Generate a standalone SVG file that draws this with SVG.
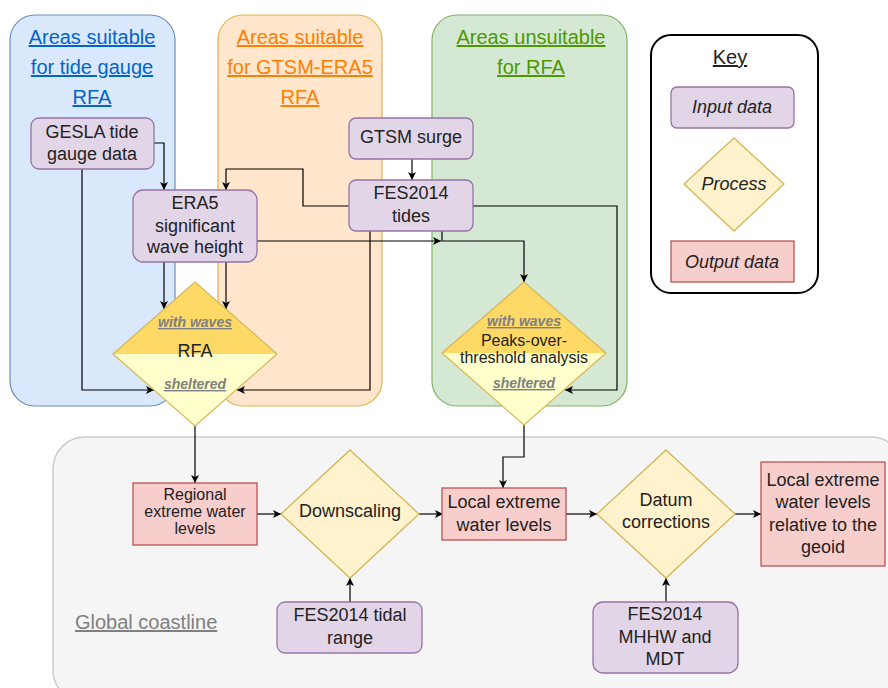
<svg xmlns="http://www.w3.org/2000/svg" width="888" height="688" viewBox="0 0 888 688">
<defs>
<marker id="arr" markerWidth="10" markerHeight="10" refX="9" refY="5" orient="auto" markerUnits="userSpaceOnUse">
<path d="M1,1 L9,5 L1,9 L3,5 z" fill="#000"/>
</marker>
<style>
text{font-family:"Liberation Sans",Arial,sans-serif;fill:#222;}
.t{font-size:18px;text-anchor:middle;}
.s{font-size:16px;text-anchor:middle;}
.h{font-size:20px;text-anchor:middle;text-decoration:underline;}
.k{font-size:18px;text-anchor:middle;font-style:italic;}
.w{font-size:14px;text-anchor:middle;font-style:italic;font-weight:bold;text-decoration:underline;fill:#808080;}
.in{fill:#e1d5e7;stroke:#9673a6;stroke-width:1.3;}
.out{fill:#f8cecc;stroke:#b85450;stroke-width:1.3;}
.proc{fill:#fff2cc;stroke:#d6b656;stroke-width:1.3;}
.ca{fill:none;stroke:#000;stroke-width:1.2;marker-end:url(#arr);}
</style>
</defs>
<rect width="888" height="688" fill="#fff"/>
<g id="lanes">
<rect x="10" y="15" width="165" height="391" rx="25" fill="#dae8fc" stroke="#6c8ebf" stroke-width="1.2"/>
<rect x="218" y="15" width="164" height="391" rx="25" fill="#ffe6cc" stroke="#d79b00" stroke-width="1.2" stroke-opacity="0.7"/>
<rect x="432" y="15" width="195" height="391" rx="25" fill="#d5e8d4" stroke="#82b366" stroke-width="1.2"/>
<rect x="53" y="437" width="850" height="265" rx="32" fill="#f5f5f5" stroke="#cccccc" stroke-width="1.5"/>
<text class="h" x="92" y="44" style="fill:#0066CC">Areas suitable</text>
<text class="h" x="92" y="74" style="fill:#0066CC">for tide gauge</text>
<text class="h" x="92" y="104" style="fill:#0066CC">RFA</text>
<text class="h" x="300" y="44" style="fill:#FF8000">Areas suitable</text>
<text class="h" x="300" y="74" style="fill:#FF8000">for GTSM-ERA5</text>
<text class="h" x="300" y="104" style="fill:#FF8000">RFA</text>
<text class="h" x="531" y="44" style="fill:#4D9900">Areas unsuitable</text>
<text class="h" x="531" y="74" style="fill:#4D9900">for RFA</text>
<text x="75" y="629" style="font-size:20px;fill:#808080;text-decoration:underline">Global coastline</text>
</g>
<g id="key">
<rect x="651" y="35" width="167" height="258" rx="20" fill="#fff" stroke="#000" stroke-width="2"/>
<text class="h" x="730" y="64">Key</text>
<rect class="in" x="671" y="87" width="123" height="41" rx="6"/>
<text class="k" x="732" y="113">Input data</text>
<polygon class="proc" points="734,138 784,184 734,231 684,184"/>
<text class="k" x="734" y="190">Process</text>
<rect class="out" x="671" y="241" width="123" height="41"/>
<text class="k" x="732" y="268">Output data</text>
</g>
<g id="connectors">
<polyline class="ca" points="154,143 164,143 164,190"/>
<polyline class="ca" points="82,169 82,390 154,390"/>
<polyline class="ca" points="164,262 164,309"/>
<polyline class="ca" points="226,262 226,309"/>
<polyline class="ca" points="349,206 303,206 303,169 226,169 226,190"/>
<polyline class="ca" points="412,159 412,180"/>
<polyline class="ca" points="257,241 441,241"/>
<polyline class="ca" points="442,231 442,241 524,241 524,282"/>
<polyline class="ca" points="370,231 370,390 237,390"/>
<polyline class="ca" points="473,206 617,206 617,390 565,390"/>
<polyline class="ca" points="195,426 195,483"/>
<polyline class="ca" points="524,425 524,457 503,457 503,488"/>
<polyline class="ca" points="257,514 281,514"/>
<polyline class="ca" points="419,514 443,514"/>
<polyline class="ca" points="566,514 597,514"/>
<polyline class="ca" points="735,514 761,514"/>
<polyline class="ca" points="350,602 350,578"/>
<polyline class="ca" points="666,602 666,578"/>
</g>
<g id="gesla">
<rect class="in" x="31" y="118" width="123" height="51" rx="8"/>
<text class="t" x="92" y="138">GESLA tide</text>
<text class="t" x="92" y="160">gauge data</text>
</g>
<g id="era5">
<rect class="in" x="133" y="190" width="124" height="72" rx="10"/>
<text class="t" x="195" y="209">ERA5</text>
<text class="t" x="195" y="232">significant</text>
<text class="t" x="195" y="253">wave height</text>
</g>
<g id="gtsm">
<rect class="in" x="349" y="118" width="124" height="41" rx="7"/>
<text class="t" x="411" y="143">GTSM surge</text>
</g>
<g id="fes-tides">
<rect class="in" x="349" y="180" width="124" height="51" rx="7"/>
<text class="t" x="411" y="199">FES2014</text>
<text class="t" x="411" y="222">tides</text>
</g>
<g id="rfa">
<polygon points="113,354 195,282 277,354" fill="#ffd966"/>
<polygon points="113,354 277,354 195,426" fill="#ffffcc"/>
<polygon points="195,282 277,354 195,426 113,354" fill="none" stroke="#d6b656" stroke-width="1.2"/>
<text class="w" x="195" y="327">with waves</text>
<text class="t" x="195" y="357">RFA</text>
<text class="w" x="195" y="389">sheltered</text>
</g>
<g id="pot">
<polygon points="442,353 524,282 606,353" fill="#ffd966"/>
<polygon points="442,353 606,353 524,425" fill="#ffffcc"/>
<polygon points="524,282 606,353 524,425 442,353" fill="none" stroke="#d6b656" stroke-width="1.2"/>
<text class="w" x="524" y="326">with waves</text>
<text class="s" x="524" y="346">Peaks-over-</text>
<text class="s" x="524" y="363">threshold analysis</text>
<text class="w" x="524" y="388">sheltered</text>
</g>
<g id="regional">
<rect class="out" x="133" y="483" width="124" height="62"/>
<text class="s" x="195" y="500">Regional</text>
<text class="s" x="195" y="517">extreme water</text>
<text class="s" x="195" y="534">levels</text>
</g>
<g id="downscaling">
<polygon class="proc" points="350,450 419,514 350,578 281,514"/>
<text class="t" x="350" y="517">Downscaling</text>
</g>
<g id="fes-range">
<rect class="in" x="277" y="602" width="145" height="51" rx="8"/>
<text class="t" x="350" y="621">FES2014 tidal</text>
<text class="t" x="350" y="644">range</text>
</g>
<g id="local">
<rect class="out" x="442" y="488" width="124" height="52"/>
<text class="t" x="504" y="508">Local extreme</text>
<text class="t" x="504" y="531">water levels</text>
</g>
<g id="datum">
<polygon class="proc" points="666,450 735,514 666,578 597,514"/>
<text class="t" x="666" y="506">Datum</text>
<text class="t" x="666" y="528">corrections</text>
</g>
<g id="fes-mdt">
<rect class="in" x="593" y="602" width="145" height="71" rx="10"/>
<text class="t" x="665" y="620">FES2014</text>
<text class="t" x="665" y="643">MHHW and </text>
<text class="t" x="665" y="665">MDT</text>
</g>
<g id="geoid">
<rect class="out" x="761" y="462" width="124" height="104"/>
<text class="t" x="823" y="486">Local extreme</text>
<text class="t" x="823" y="508">water levels</text>
<text class="t" x="823" y="531">relative to the</text>
<text class="t" x="823" y="553">geoid</text>
</g>
</svg>
